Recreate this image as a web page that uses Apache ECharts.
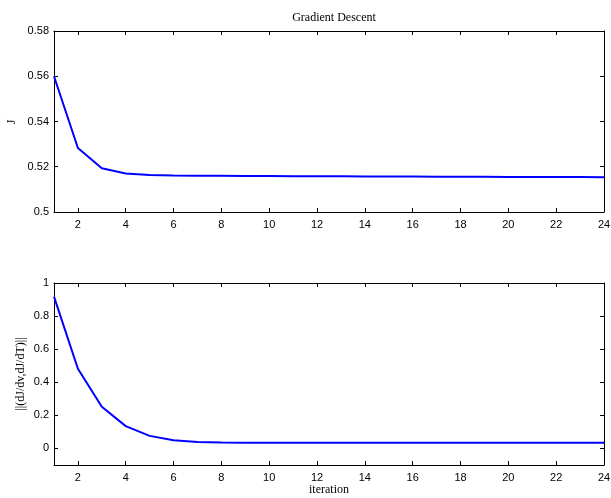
<!DOCTYPE html>
<html>
<head>
<meta charset="utf-8">
<script src="https://cdn.jsdelivr.net/npm/echarts@6/dist/echarts.min.js"></script>
<style>
  html, body { margin: 0; padding: 0; background: #fff; }
  #chart { width: 611px; height: 498px; }
</style>
</head>
<body>
<div id="chart"></div>
<script>
// iteration number and the two traces
var iterations = [1, 2, 3, 4, 5, 6, 7, 8, 9, 10, 11, 12, 13, 14, 15, 16, 17, 18, 19, 20, 21, 22, 23, 24];
var costJ = [0.5600, 0.5283, 0.5193, 0.5170, 0.5164, 0.5161, 0.5160, 0.5160, 0.5159, 0.5159, 0.5158, 0.5158,
             0.5158, 0.5157, 0.5157, 0.5157, 0.5156, 0.5156, 0.5156, 0.5155, 0.5155, 0.5155, 0.5155, 0.5154];
var gradNorm = [0.918, 0.482, 0.252, 0.135, 0.076, 0.049, 0.039, 0.036, 0.035, 0.034, 0.034, 0.034,
                0.034, 0.034, 0.034, 0.034, 0.035, 0.035, 0.035, 0.035, 0.035, 0.035, 0.035, 0.035];
var xTicks = [2, 4, 6, 8, 10, 12, 14, 16, 18, 20, 22, 24];
var yTicksTop = [0.5, 0.52, 0.54, 0.56, 0.58];
var yTicksBottom = [0, 0.2, 0.4, 0.6, 0.8, 1];

var chart = echarts.init(document.getElementById('chart'));

var sans = 'Liberation Sans, Arial, sans-serif';
var serif = 'Liberation Serif, Times New Roman, serif';

// matlab style box: ticks inside on every side
function xAx(grid, pos, showLabel, name) {
  return {
    type: 'value', gridIndex: grid, position: pos, min: 1, max: 24,
    name: name || '', nameLocation: 'middle', nameGap: 19,
    nameTextStyle: { fontFamily: serif, fontSize: 12, color: '#000' },
    axisLine: { show: true, onZero: false, lineStyle: { color: '#000', width: 1 } },
    axisTick: { show: true, inside: true, length: 4, customValues: xTicks, lineStyle: { color: '#000' } },
    axisLabel: { show: showLabel, customValues: xTicks, fontFamily: sans, fontSize: 11, color: '#000', margin: 7 },
    splitLine: { show: false }
  };
}
function yAx(grid, pos, min, max, ticks, showLabel) {
  return {
    type: 'value', gridIndex: grid, position: pos, min: min, max: max,
    axisLine: { show: true, onZero: false, lineStyle: { color: '#000', width: 1 } },
    axisTick: { show: true, inside: true, length: 4, customValues: ticks, lineStyle: { color: '#000' } },
    axisLabel: { show: showLabel, customValues: ticks, fontFamily: sans, fontSize: 11, color: '#000', margin: 5 },
    splitLine: { show: false }
  };
}
// rotated y axis titles
function yTitle(text, x, y) {
  return {
    type: 'text', x: x, y: y, rotation: Math.PI / 2,
    style: { text: text, font: '12px ' + serif, fill: '#000', align: 'center', verticalAlign: 'middle' }
  };
}

chart.setOption({
  animation: false,
  backgroundColor: '#fff',
  title: {
    text: 'Gradient Descent', left: 329, top: 7, textAlign: 'center',
    textStyle: { fontFamily: serif, fontSize: 12, fontWeight: 'normal', color: '#000' }
  },
  grid: [
    { left: 54, right: 7, top: 31, height: 181, outerBoundsMode: 'none' },
    { left: 54, right: 7, top: 283, height: 182, outerBoundsMode: 'none' }
  ],
  xAxis: [
    xAx(0, 'bottom', true),
    xAx(0, 'top', false),
    xAx(1, 'bottom', true, 'iteration'),
    xAx(1, 'top', false)
  ],
  yAxis: [
    yAx(0, 'left', 0.5, 0.58, yTicksTop, true),
    yAx(0, 'right', 0.5, 0.58, yTicksTop, false),
    yAx(1, 'left', -0.1, 1, yTicksBottom, true),
    yAx(1, 'right', -0.1, 1, yTicksBottom, false)
  ],
  graphic: [
    yTitle('J', 12, 122),
    yTitle('||(dJ/dv,dJ/dT)||', 21, 374)
  ],
  series: [
    {
      type: 'line', xAxisIndex: 0, yAxisIndex: 0, showSymbol: false,
      data: iterations.map(function (it, i) { return [it, costJ[i]]; }),
      lineStyle: { color: '#0000ff', width: 2 }, itemStyle: { color: '#0000ff' }
    },
    {
      type: 'line', xAxisIndex: 2, yAxisIndex: 2, showSymbol: false,
      data: iterations.map(function (it, i) { return [it, gradNorm[i]]; }),
      lineStyle: { color: '#0000ff', width: 2 }, itemStyle: { color: '#0000ff' }
    }
  ]
});
</script>
</body>
</html>
